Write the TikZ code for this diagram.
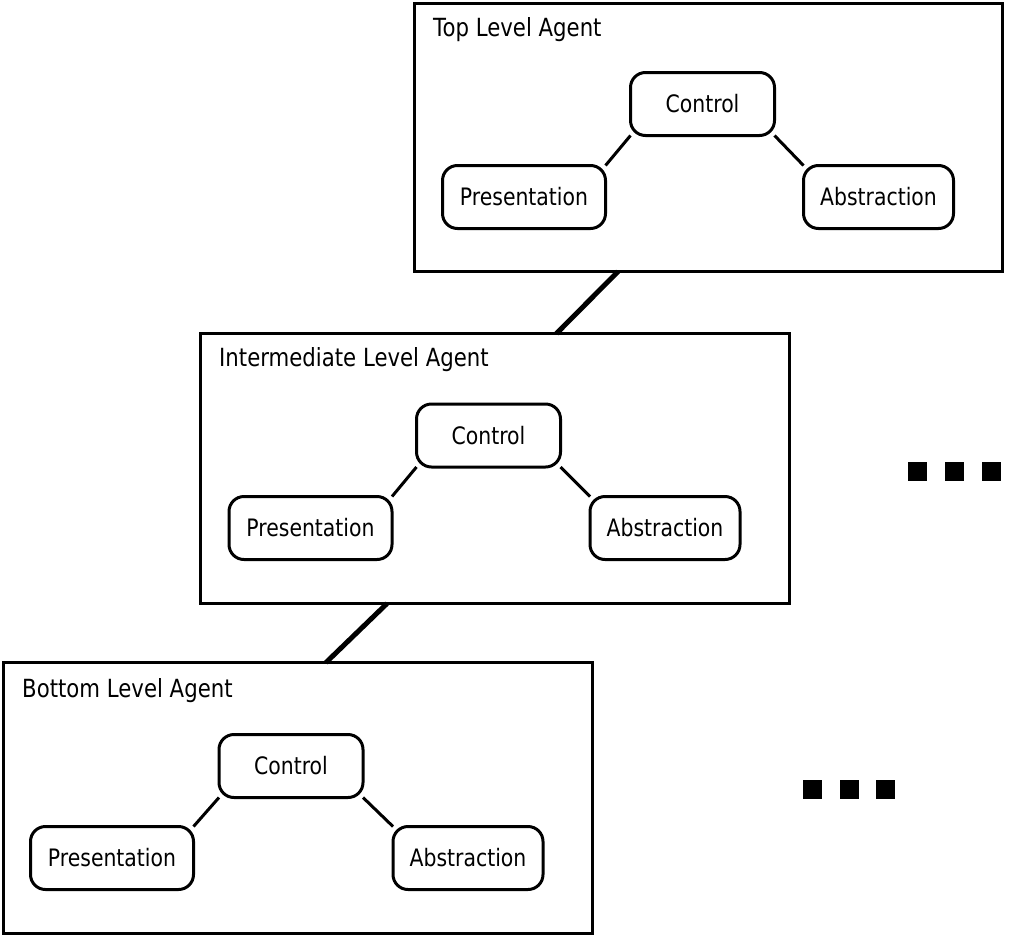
\documentclass[tikz,border=0pt]{standalone}
\usepackage{fontspec}
\setmainfont{DejaVu Sans}[FakeStretch=0.85]
\begin{document}
\begin{tikzpicture}[x=1pt,y=-1pt,
  agent/.style={draw,line width=3pt,minimum width=589pt,minimum height=270pt,anchor=north west,inner sep=0pt,outer sep=0pt},
  part/.style={draw,line width=3pt,rounded corners=15pt,minimum height=63pt,inner sep=0pt,outer sep=0pt,font=\fontsize{24}{28}\selectfont},
  ctrl/.style={part,minimum width=144pt},
  pres/.style={part,minimum width=163pt},
  abst/.style={part,minimum width=150pt},
  title/.style={anchor=base west,inner sep=0pt,font=\fontsize{25}{30}\selectfont},
  link/.style={line width=3pt},
  tie/.style={line width=5pt},
  sq/.style={fill=black,draw=none,minimum size=19pt,inner sep=0pt}]
\useasboundingbox (0,0) rectangle (1024,937);
% agents
\node[agent,minimum width=588pt,minimum height=268pt] (top) at (414.5,3.5) {};
\node[agent] (mid) at (200.5,333.5) {};
\node[agent,minimum height=271pt] (bot) at (3.5,662.5) {};
% titles
\node[title] (ttop) at (433,36) {Top Level Agent};
\node[title] (tmid) at (219,366) {Intermediate Level Agent};
\node[title] (tbot) at (22,697) {Bottom Level Agent};
% top parts
\node[ctrl] (c1) at (702.5,104) {Control};
\node[pres] (p1) at (524,197) {Presentation};
\node[abst] (a1) at (878.5,197) {Abstraction};
% mid parts
\node[ctrl] (c2) at (488.5,435.5) {Control};
\node[pres] (p2) at (310.5,528) {Presentation};
\node[abst] (a2) at (665,528) {Abstraction};
% bottom parts
\node[ctrl] (c3) at (291,766) {Control};
\node[pres] (p3) at (112,858) {Presentation};
\node[abst] (a3) at (468,858) {Abstraction};
% links inside agents
\foreach \i in {1,2,3}{
  \draw[link] (c\i.south west) -- (p\i.north east);
  \draw[link] (c\i.south east) -- (a\i.north west);
}
% ties between agents
\coordinate (u1) at ([xshift=203.5pt]top.south west);
\coordinate (v1) at ([xshift=356pt]mid.north west);
\coordinate (u2) at ([xshift=186.5pt]mid.south west);
\coordinate (v2) at ([xshift=322.5pt]bot.north west);
\draw[tie] (u1) -- (v1);
\draw[tie] (u2) -- (v2);
% ellipsis squares
\node[sq] (d1) at (917.5,471.5) {};
\node[sq] (d2) at (954.5,471.5) {};
\node[sq] (d3) at (991.5,471.5) {};
\node[sq] (e1) at (812.5,789) {};
\node[sq] (e2) at (849,789) {};
\node[sq] (e3) at (885.5,789) {};
\end{tikzpicture}
\end{document}
